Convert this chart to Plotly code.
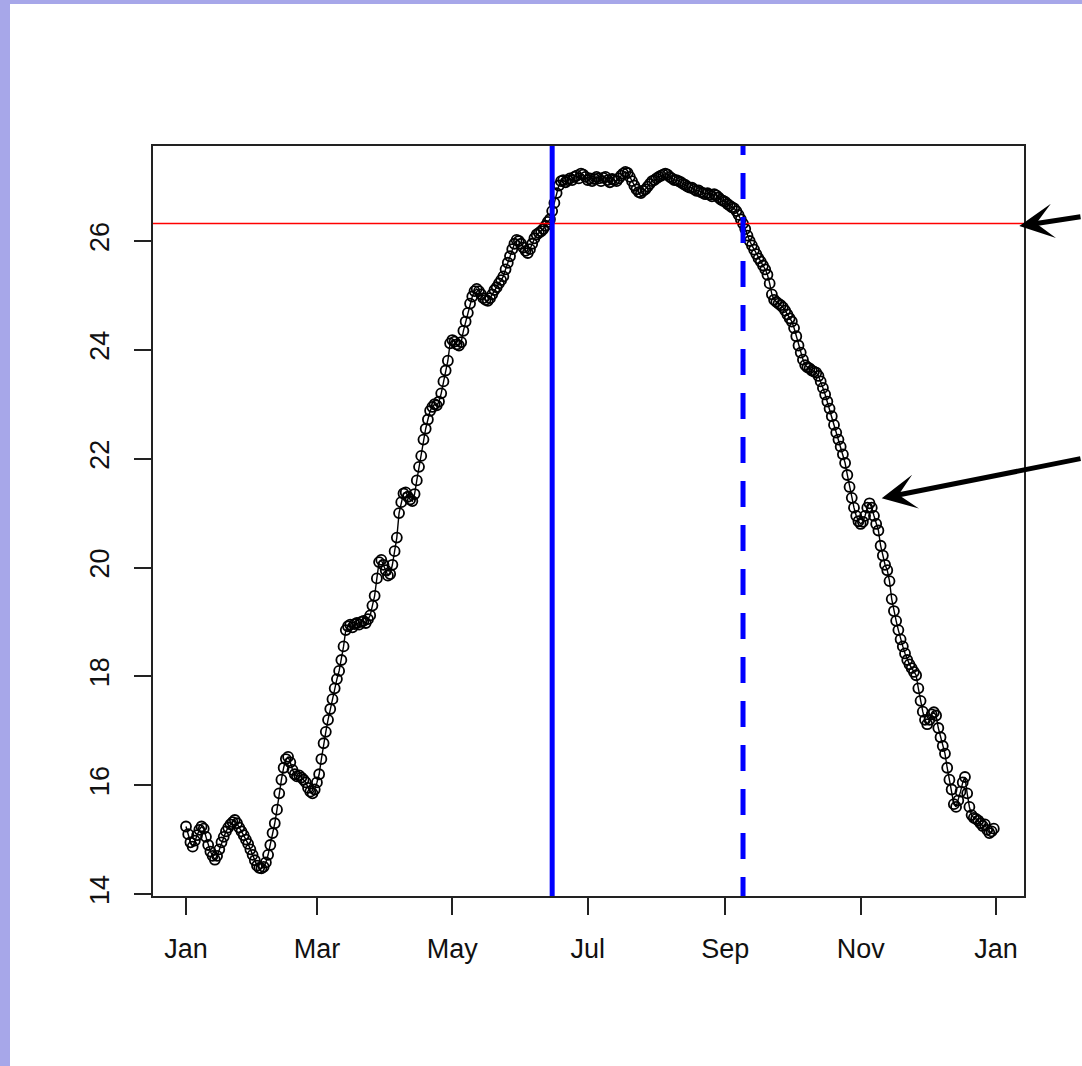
import pandas as pd
import plotly.graph_objects as go

# ---- data: daily values, Jan 1 .. Dec 31 ----
jan = [15.24, 15.10, 14.95, 14.87, 14.98, 15.08, 15.18, 15.24, 15.20, 15.05,
       14.90, 14.78, 14.70, 14.63, 14.70, 14.82, 14.95, 15.05, 15.15, 15.22,
       15.28, 15.32, 15.36, 15.30, 15.22, 15.15, 15.08, 15.00, 14.92, 14.82, 14.72]
feb = [14.62, 14.52, 14.48, 14.47, 14.50, 14.58, 14.72, 14.90, 15.12, 15.30,
       15.55, 15.85, 16.10, 16.32, 16.48, 16.52, 16.42, 16.28, 16.20, 16.16,
       16.18, 16.14, 16.10, 16.05, 15.95, 15.88, 15.85, 15.92]
mar = [16.05, 16.20, 16.48, 16.77, 16.98, 17.20, 17.40, 17.58, 17.78, 17.95,
       18.10, 18.30, 18.55, 18.85, 18.92, 18.95, 18.90, 18.96, 18.98, 18.95,
       19.00, 19.02, 18.98, 19.05, 19.12, 19.30, 19.48, 19.80, 20.10, 20.14, 20.05]
apr = [19.95, 19.85, 19.88, 20.05, 20.30, 20.55, 21.00, 21.20, 21.36, 21.38,
       21.30, 21.25, 21.22, 21.35, 21.60, 21.85, 22.05, 22.35, 22.55, 22.72,
       22.88, 22.95, 23.00, 22.98, 23.05, 23.20, 23.42, 23.62, 23.80, 24.12]
may = [24.18, 24.15, 24.10, 24.08, 24.14, 24.35, 24.52, 24.68, 24.85, 24.98,
       25.08, 25.12, 25.08, 25.02, 24.95, 24.92, 24.90, 24.95, 25.02, 25.10,
       25.15, 25.22, 25.28, 25.35, 25.48, 25.60, 25.72, 25.85, 25.95, 26.02, 26.00]
jun = [25.95, 25.88, 25.82, 25.78, 25.85, 25.95, 26.05, 26.12, 26.15, 26.18,
       26.22, 26.28, 26.35, 26.40, 26.55, 26.70, 26.88, 27.02, 27.10, 27.12,
       27.08, 27.12, 27.15, 27.12, 27.18, 27.20, 27.15, 27.24, 27.22, 27.18]
jul = [27.12, 27.15, 27.10, 27.14, 27.18, 27.15, 27.10, 27.16, 27.18, 27.12,
       27.08, 27.14, 27.12, 27.10, 27.15, 27.20, 27.24, 27.27, 27.25, 27.18,
       27.10, 27.02, 26.95, 26.90, 26.88, 26.92, 26.95, 27.00, 27.05, 27.10, 27.12]
aug = [27.15, 27.18, 27.20, 27.22, 27.24, 27.22, 27.18, 27.15, 27.12, 27.12,
       27.10, 27.08, 27.05, 27.03, 27.00, 26.98, 26.98, 26.95, 26.92, 26.93,
       26.90, 26.88, 26.86, 26.88, 26.85, 26.82, 26.86, 26.84, 26.80, 26.76, 26.74]
sep = [26.72, 26.68, 26.65, 26.62, 26.60, 26.55, 26.48, 26.40, 26.32, 26.22,
       26.10, 26.00, 25.92, 25.84, 25.76, 25.68, 25.62, 25.55, 25.48, 25.38,
       25.22, 25.02, 24.92, 24.88, 24.85, 24.82, 24.78, 24.72, 24.65, 24.58]
oct_ = [24.52, 24.40, 24.25, 24.08, 23.95, 23.82, 23.72, 23.68, 23.66, 23.62,
        23.60, 23.58, 23.52, 23.42, 23.30, 23.18, 23.05, 22.92, 22.78, 22.62,
        22.48, 22.35, 22.22, 22.08, 21.92, 21.70, 21.48, 21.28, 21.10, 20.95, 20.85]
nov = [20.80, 20.84, 20.95, 21.10, 21.18, 21.10, 20.95, 20.80, 20.68, 20.40,
       20.22, 20.05, 19.95, 19.75, 19.42, 19.20, 19.02, 18.85, 18.68, 18.55,
       18.42, 18.30, 18.22, 18.15, 18.08, 18.02, 17.78, 17.55, 17.35, 17.20]
dec = [17.12, 17.20, 17.30, 17.34, 17.28, 17.05, 16.88, 16.72, 16.58, 16.32,
       16.10, 15.92, 15.65, 15.60, 15.72, 15.88, 16.05, 16.15, 15.85, 15.60,
       15.45, 15.40, 15.38, 15.35, 15.30, 15.25, 15.28, 15.18, 15.12, 15.15, 15.20]

values = jan + feb + mar + apr + may + jun + jul + aug + sep + oct_ + nov + dec
dates = pd.date_range("2015-01-01", periods=len(values), freq="D")

tick_dates = ["2015-01-01", "2015-03-01", "2015-05-01", "2015-07-01",
              "2015-09-01", "2015-11-01", "2016-01-01"]
tick_labels = ["Jan", "Mar", "May", "Jul", "Sep", "Nov", "Jan"]
y_ticks = [14, 16, 18, 20, 22, 24, 26]

threshold = 26.32
start_date = "2015-06-15"
end_date = "2015-09-09"

FONT = "Liberation Sans, Arial, sans-serif"

fig = go.Figure()
fig.add_trace(go.Scatter(
    x=dates, y=values, mode="lines+markers",
    line=dict(color="black", width=1.4),
    marker=dict(symbol="circle-open", size=10, color="black",
                line=dict(width=1.8, color="black")),
    hoverinfo="skip", showlegend=False))

shapes = [
    # white page area leaving a periwinkle strip top and left
    dict(type="rect", xref="paper", yref="paper",
         x0=(10 - 153) / 871, x1=2, y0=-1, y1=(896 - 4) / 750,
         fillcolor="white", line=dict(width=0), layer="below"),
    dict(type="line", xref="paper", yref="y", x0=0, x1=1,
         y0=threshold, y1=threshold, line=dict(color="#ff0000", width=1.5)),
    dict(type="line", xref="x", yref="y", x0=start_date, x1=start_date,
         y0=13.0, y1=29.0, line=dict(color="#0000ff", width=5)),
    dict(type="line", xref="x", yref="y", x0=end_date, x1=end_date,
         y0=28.06, y1=13.0, line=dict(color="#0000ff", width=5, dash="26px,18px")),
]

annotations = [
    dict(xref="paper", yref="paper", x=(1019.3 - 153) / 871, y=(896 - 226) / 750,
         ax=64, ay=-9.5, axref="pixel", ayref="pixel", text="",
         showarrow=True, arrowhead=3, arrowsize=1.15, arrowwidth=5,
         arrowcolor="black", standoff=0),
    dict(xref="paper", yref="paper", x=(881.7 - 153) / 871, y=(896 - 498.3) / 750,
         ax=202, ay=-40, axref="pixel", ayref="pixel", text="",
         showarrow=True, arrowhead=3, arrowsize=1.15, arrowwidth=5,
         arrowcolor="black", standoff=0),
]

fig.update_layout(
    width=1082, height=1066, autosize=False,
    margin=dict(l=153, r=58, t=146, b=170, pad=0),
    paper_bgcolor="#a7a7e9", plot_bgcolor="white",
    font=dict(family=FONT, size=27, color="#111111"),
    shapes=shapes, annotations=annotations, hovermode=False,
)
fig.update_xaxes(
    type="date", range=["2014-12-17 03:07", "2016-01-13 14:38"],
    tickvals=tick_dates, ticktext=tick_labels,
    showgrid=False, zeroline=False,
    showline=True, linecolor="#222222", linewidth=1.5, mirror=True,
    ticks="outside", ticklen=17, tickwidth=1.5, tickcolor="#222222",
    ticklabelstandoff=11,
    tickfont=dict(family=FONT, size=27, color="#111111"),
)
fig.update_yaxes(
    range=[13.963, 27.746], tickvals=y_ticks,
    ticktext=[str(v) for v in y_ticks],
    showgrid=False, zeroline=False,
    showline=True, linecolor="#222222", linewidth=1.5, mirror=True,
    ticks="outside", ticklen=17, tickwidth=1.5, tickcolor="#222222",
    tickangle=-90, ticklabelstandoff=14,
    tickfont=dict(family=FONT, size=27, color="#111111"),
)

fig.write_html("out.html", config={"displayModeBar": False})
